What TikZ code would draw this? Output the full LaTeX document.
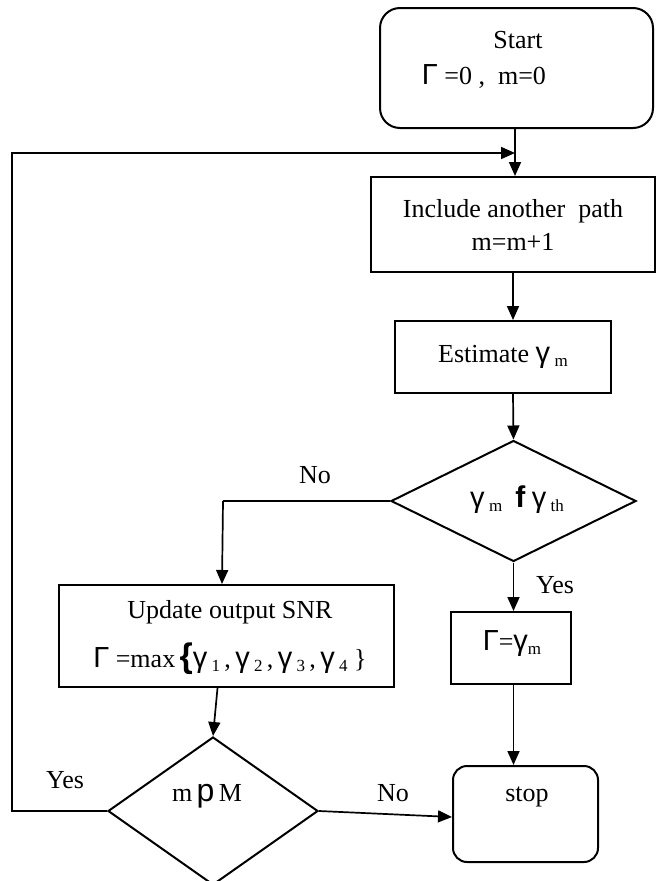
\documentclass[tikz,border=0pt]{standalone}
\usepackage{fontspec}
\setmainfont{Liberation Serif}
\newfontfamily\sy{Liberation Sans}
\usetikzlibrary{arrows.meta,shapes.geometric}
\newcommand\SG{{\sy\fontsize{29}{29}\selectfont Γ}}
\newcommand\Sg{{\sy\fontsize{29}{29}\selectfont γ}}
\newcommand\Ss[1]{\raisebox{-4pt}{\fontsize{17}{17}\selectfont #1}}
\begin{document}
\begin{tikzpicture}[x=1pt,y=-1pt,
  every node/.style={font=\fontsize{26}{33}\selectfont, inner sep=0pt},
  box/.style={draw, line width=2pt, rectangle},
  rbox/.style={draw, line width=2pt, rectangle, rounded corners=#1},
  dia/.style={draw, line width=2pt, diamond, shape aspect=1},
  arr/.style={line width=1.7pt, -{Triangle[length=14pt,width=12pt]}},
  lbl/.style={font=\fontsize{26}{30}\selectfont}]
\useasboundingbox (0,0) rectangle (656,881);
% boxes
\node[rbox=20pt, minimum width=273pt, minimum height=120pt] (start) at (516.5,68) {};
\node (starttxt) at (518,40) {Start};
\node (initxt) at (484,77) {\SG\ =0 ,\ \ m=0};
\node[box, minimum width=284pt, minimum height=95pt, align=center] (inc) at (513,224.5) {Include another\ \ path\\m=m+1};
\node[box, minimum width=216pt, minimum height=72pt] (est) at (503,357) {Estimate \Sg\,\Ss{m}};
\node[dia, minimum width=245pt, minimum height=121pt] (dia1) at (513.5,501) {};
\node (cond1) at (517,500) {\Sg\,\Ss{m}\ \ {\sy\bfseries\fontsize{30}{30}\selectfont f}\ \Sg\,\Ss{th}};
\node[box, minimum width=335pt, minimum height=102pt] (upd) at (226.5,636) {};
\node (updtxt1) at (230,612) {Update output SNR};
\node (updtxt2) at (230,659) {\SG\ =max\,{\sy\bfseries\fontsize{34}{34}\selectfont\{}\Sg\,\Ss{1}\,,\,\Sg\,\Ss{2}\,,\,\Sg\,\Ss{3}\,,\,\Sg\,\Ss{4}\ \}};
\node[box, minimum width=120pt, minimum height=72pt] (gam) at (511,648) {};
\node (gamtxt) at (512,644) {\SG=\Sg\Ss{m}};
\node[dia, minimum width=210pt, minimum height=148pt] (dia2) at (213,811) {};
\node (cond2) at (207,796) {m\,{\sy\fontsize{32}{32}\selectfont p}\,M};
\node[rbox=14pt, minimum width=145pt, minimum height=96pt] (stop) at (525.5,814) {};
\node (stoptxt) at (527,797) {stop};
% labels
\node[lbl] (no1) at (315,475) {No};
\node[lbl] (yes1) at (555,585) {Yes};
\node[lbl] (yes2) at (65,780) {Yes};
\node[lbl] (no2) at (393,793) {No};
% connectors
\coordinate (fbend) at (515,153);
\coordinate (c1) at (223,501);
\draw[arr] (start.south -| fbend) -- (fbend |- inc.north);
\draw[arr] (dia2.west) -- ++(-95,0) |- (fbend);
\draw[arr] (inc.south) -- (inc.south |- est.north);
\draw[arr] (inc.south |- est.south) -- (dia1.north);
\draw[line width=1.7pt] (dia1.west) -- (c1);
\draw[arr] (c1) -- ([xshift=-1pt]c1 |- upd.north);
\draw[arr] (dia1.south) -- (dia1.south |- gam.north);
\draw[arr] ([xshift=-9pt]upd.south) -- (dia2.north);
\draw[arr] (dia1.south |- gam.south) -- (dia1.south |- stop.north);
\draw[arr] (dia2.east) -- ([yshift=-3pt]stop.west);
\end{tikzpicture}
\end{document}
